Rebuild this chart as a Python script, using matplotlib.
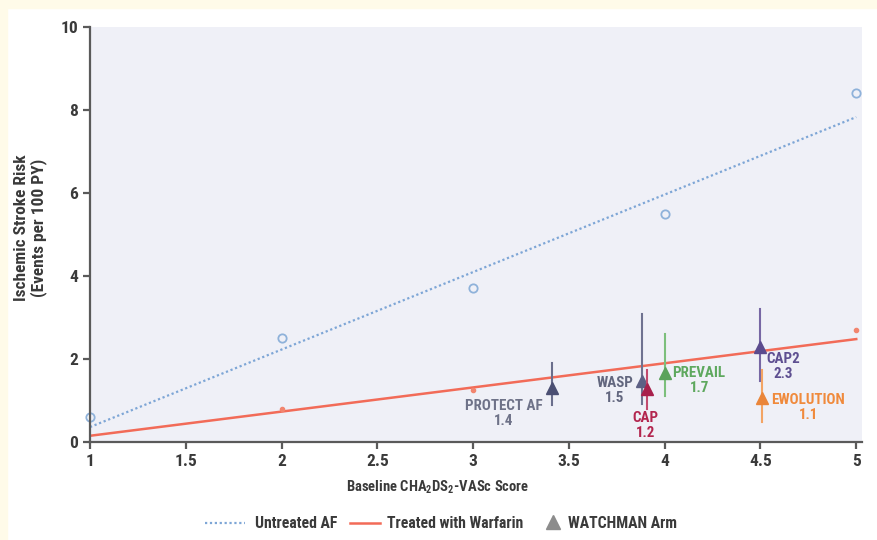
import numpy as np
import matplotlib.pyplot as plt
from matplotlib import font_manager
from matplotlib.lines import Line2D
from matplotlib.patches import Rectangle

# pick a narrow sans if one is installed
names = {f.name for f in font_manager.fontManager.ttflist}
for cand in ['Liberation Sans Narrow', 'DejaVu Sans Condensed', 'Roboto Condensed',
             'Open Sans Condensed', 'Liberation Sans']:
    if cand in names:
        base_font = cand
        break
else:
    base_font = 'DejaVu Sans'
plt.rcParams['font.family'] = [base_font, 'DejaVu Sans']
plt.rcParams['font.weight'] = 'bold'
plt.rcParams['mathtext.fontset'] = 'custom'
plt.rcParams['mathtext.rm'] = base_font
plt.rcParams['mathtext.bf'] = base_font + ':bold'

# Untreated AF
untreated_x = [1, 2, 3, 4, 5]
untreated_y = [0.6, 2.5, 3.7, 5.5, 8.4]
untreated_fit_x = [1, 5]
untreated_fit_y = [0.36, 7.83]

# Treated with warfarin
warfarin_x = [2, 3, 5]
warfarin_y = [0.8, 1.25, 2.7]
warfarin_fit_x = [1, 5]
warfarin_fit_y = [0.15, 2.48]

# WATCHMAN arms
trials = ['PROTECT AF', 'WASP', 'CAP', 'PREVAIL', 'CAP2', 'EWOLUTION']
trial_values = ['1.4', '1.5', '1.2', '1.7', '2.3', '1.1']
trial_x = [3.41, 3.88, 3.91, 4.0, 4.5, 4.51]
trial_y = [1.29, 1.48, 1.28, 1.66, 2.28, 1.06]
trial_lo = [0.89, 0.92, 0.80, 1.12, 1.48, 0.47]
trial_hi = [1.90, 3.08, 1.74, 2.60, 3.20, 1.74]
trial_colors = ['#4b4f73', '#5d6085', '#a8204c', '#5ba35b', '#5b4b8e', '#ea8539']
bar_colors = ['#6a6e8c', '#6f7290', '#c24a6e', '#7cbf7c', '#7767a4', '#f3a464']
label_colors = ['#6e7288', '#62667e', '#b3264f', '#5ea85e', '#5e4f91', '#f08a3c']
label_x = [3.16, 3.74, 3.90, 4.18, 4.62, 4.75]
label_y = [0.69, 1.24, 0.40, 1.48, 1.82, 0.83]

legend_labels = ['Untreated AF', 'Treated with Warfarin', 'WATCHMAN Arm']

W, H = 878, 540
fig = plt.figure(figsize=(W / 100, H / 100), dpi=100)
fig.patch.set_facecolor('white')
fig.add_artist(Rectangle((0, 0), 7 / W, 1, transform=fig.transFigure,
                         color='#fffbe9', zorder=0))
fig.add_artist(Rectangle((0, 1 - 8 / H), 1, 8 / H, transform=fig.transFigure,
                         color='#fffbe9', zorder=0))

ax = fig.add_axes([90 / W, 98 / H, 772 / W, 415 / H])
ax.set_facecolor('#eff0f7')

ax.plot(untreated_fit_x, untreated_fit_y, ls=(0, (1, 1.2)), color='#7ea6d6', lw=1.6)
ax.plot(untreated_x, untreated_y, 'o', mfc='none', mec='#8fb2da', ms=6, mew=1.3,
        clip_on=False)
ax.plot(warfarin_fit_x, warfarin_fit_y, '-', color='#f26b58', lw=1.8)
ax.plot(warfarin_x, warfarin_y, 'o', color='#f2856f', ms=3, clip_on=False)

for i in range(len(trials)):
    ax.plot([trial_x[i], trial_x[i]], [trial_lo[i], trial_hi[i]],
            color=bar_colors[i], lw=1.5)
    ax.plot(trial_x[i], trial_y[i], '^', color=trial_colors[i], ms=8.5)
    ax.text(label_x[i], label_y[i], trials[i] + '\n' + trial_values[i],
            color=label_colors[i], ha='center', va='center', fontsize=10.8,
            linespacing=1.15)

ax.set_xlim(1, 5.03)
ax.set_ylim(0, 10)
ax.set_xticks([1, 1.5, 2, 2.5, 3, 3.5, 4, 4.5, 5])
ax.set_xticklabels(['1', '1.5', '2', '2.5', '3', '3.5', '4', '4.5', '5'])
ax.set_yticks([0, 2, 4, 6, 8, 10])

for s in ['top', 'right']:
    ax.spines[s].set_visible(False)
for s in ['left', 'bottom']:
    ax.spines[s].set_color('#5a5a5a')
    ax.spines[s].set_linewidth(1.6)
ax.tick_params(colors='#5a5a5a', width=1.6, length=5, labelsize=12.5,
               labelcolor='#3a3a3a')

ax.set_xlabel('Baseline CHA$_\\mathbf{2}$DS$_\\mathbf{2}$-VASc Score',
              fontsize=10.5, color='#3a3a3a', fontweight='bold', va='center')
ax.xaxis.set_label_coords(0.45, -0.11)
ax.set_ylabel('Ischemic Stroke Risk\n(Events per 100 PY)', fontsize=12.5,
              color='#3a3a3a', fontweight='bold', linespacing=1.05, va='center')
ax.yaxis.set_label_coords(-0.077, 0.516)

# legend row under the chart
ly = 1 - 523 / H
fig.add_artist(Line2D([205 / W, 245 / W], [ly, ly], transform=fig.transFigure,
                      ls=(0, (1, 1.2)), color='#7ea6d6', lw=1.6))
fig.add_artist(Line2D([350 / W, 380 / W], [ly, ly], transform=fig.transFigure,
                      ls='-', color='#f26b58', lw=1.8))
fig.add_artist(Line2D([553 / W], [ly + 1 / H], transform=fig.transFigure,
                      ls='none', marker='^', color='#8c8c8c', ms=10))
for tx, lab in zip([255, 387, 568], legend_labels):
    fig.text(tx / W, ly, lab, ha='left', va='center', fontsize=11.3,
             color='#3a3a3a')

fig.savefig('out.png', dpi=100)
